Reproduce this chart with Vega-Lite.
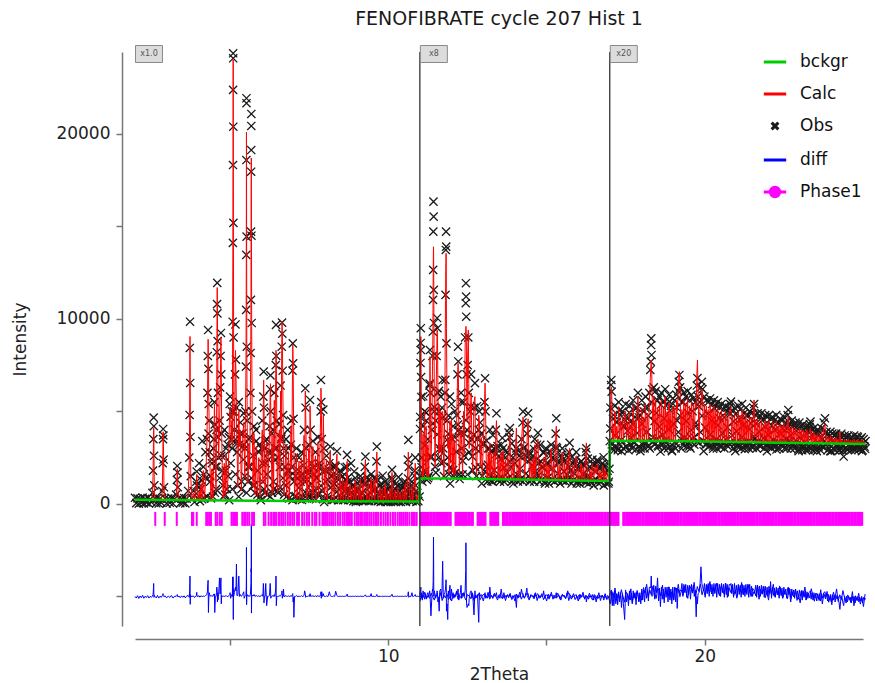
{
"$schema":"https://vega.github.io/schema/vega-lite/v6.json",
"width":728,"height":574,
"autosize":{"type":"none"},
"padding":{"left":135,"top":52,"right":12,"bottom":57},
"background":"white",
"title":{"text":"FENOFIBRATE cycle 207 Hist 1","font":"DejaVu Sans","fontSize":19,"fontWeight":"normal","color":"#1a1a1a","anchor":"middle","offset":16},
"config":{"view":{"stroke":null},"axis":{"grid":false,"domainColor":"#777","domainWidth":1.5,"tickColor":"#777","tickWidth":1.5,"tickSize":6,"labelFont":"DejaVu Sans","labelFontSize":17,"labelColor":"#222","titleFont":"DejaVu Sans","titleFontSize":17,"titleFontWeight":"normal","titleColor":"#222"}},
"datasets":{
"pat":[
{"x":2.00,"o":330,"c":230,"d":-5000},{"x":2.04,"o":40,"c":228,"d":-5090},{"x":2.08,"o":300,"c":226,"d":-4960},{"x":2.12,"o":10,"c":224,"d":-5110},{"x":2.16,"o":280,"c":222,"d":-4980},{"x":2.20,"o":60,"c":220,"d":-5070},{"x":2.24,"o":340,"c":218,"d":-4940},{"x":2.28,"o":30,"c":216,"d":-5100},{"x":2.32,"o":270,"c":214,"d":-4990},{"x":2.36,"o":80,"c":212,"d":-5060},{"x":2.40,"o":320,"c":210,"d":-4960},{"x":2.44,"o":20,"c":209,"d":-5090},{"x":2.48,"o":260,"c":208,"d":-5000},{"x":2.52,"o":90,"c":207,"d":-5050},
{"x":2.55,"o":600,"c":500,"d":-4980},{"x":2.57,"o":1800,"c":1500,"d":-4900},{"x":2.58,"o":3500,"c":3000,"d":-4700},{"x":2.59,"o":4665,"c":4100,"d":-4300},{"x":2.595,"o":4200,"c":3900,"d":-4800},{"x":2.60,"o":2600,"c":2500,"d":-5050},{"x":2.61,"o":1000,"c":900,"d":-4950},{"x":2.63,"o":300,"c":260,"d":-5000},
{"x":2.67,"o":40,"c":205,"d":-5080},{"x":2.71,"o":320,"c":204,"d":-4950},{"x":2.75,"o":20,"c":203,"d":-5090},{"x":2.79,"o":280,"c":202,"d":-4990},{"x":2.83,"o":70,"c":201,"d":-5050},
{"x":2.86,"o":700,"c":600,"d":-4960},{"x":2.875,"o":2200,"c":2000,"d":-4920},{"x":2.885,"o":3500,"c":3300,"d":-4850},{"x":2.89,"o":4050,"c":3900,"d":-4900},{"x":2.895,"o":3700,"c":3600,"d":-4950},{"x":2.905,"o":2400,"c":2300,"d":-5000},{"x":2.915,"o":900,"c":850,"d":-5020},
{"x":2.95,"o":300,"c":200,"d":-4970},{"x":3.00,"o":30,"c":199,"d":-5080},{"x":3.05,"o":290,"c":198,"d":-4980},{"x":3.10,"o":60,"c":197,"d":-5060},{"x":3.15,"o":330,"c":196,"d":-4950},{"x":3.20,"o":20,"c":195,"d":-5090},{"x":3.25,"o":270,"c":194,"d":-4990},
{"x":3.30,"o":500,"c":400,"d":-5000},{"x":3.325,"o":1300,"c":1100,"d":-4950},{"x":3.335,"o":2050,"c":1900,"d":-4900},{"x":3.345,"o":1700,"c":1700,"d":-5000},{"x":3.355,"o":900,"c":800,"d":-5030},
{"x":3.39,"o":310,"c":200,"d":-4980},{"x":3.43,"o":40,"c":195,"d":-5070},{"x":3.47,"o":290,"c":195,"d":-4970},{"x":3.51,"o":70,"c":194,"d":-5050},{"x":3.55,"o":320,"c":194,"d":-4970},{"x":3.59,"o":30,"c":193,"d":-5080},{"x":3.63,"o":280,"c":193,"d":-4990},
{"x":3.68,"o":700,"c":500,"d":-4950},{"x":3.715,"o":2500,"c":2400,"d":-5050},{"x":3.725,"o":4810,"c":4500,"d":-4700},{"x":3.732,"o":8430,"c":7800,"d":-4300},{"x":3.738,"o":9850,"c":9050,"d":-3900},{"x":3.745,"o":6540,"c":6800,"d":-5430},{"x":3.752,"o":3620,"c":3500,"d":-4900},{"x":3.762,"o":1500,"c":1400,"d":-5000},
{"x":3.80,"o":300,"c":250,"d":-5000},{"x":3.85,"o":700,"c":600,"d":-4980},{"x":3.88,"o":100,"c":230,"d":-5060},{"x":3.94,"o":1200,"c":1100,"d":-4950},{"x":3.95,"o":1750,"c":1600,"d":-4780},{"x":3.96,"o":1000,"c":1000,"d":-5000},{"x":3.99,"o":300,"c":250,"d":-4990},
{"x":4.03,"o":900,"c":700,"d":-4970},{"x":4.05,"o":150,"c":220,"d":-5040},{"x":4.09,"o":1300,"c":1100,"d":-4960},{"x":4.12,"o":250,"c":220,"d":-5020},{"x":4.16,"o":2000,"c":1800,"d":-4980},{"x":4.19,"o":300,"c":230,"d":-5000},{"x":4.23,"o":1400,"c":1200,"d":-4950},
{"x":4.27,"o":3500,"c":3200,"d":-4900},{"x":4.29,"o":6000,"c":5500,"d":-4700},{"x":4.30,"o":8000,"c":7500,"d":-4300},{"x":4.31,"o":9400,"c":8900,"d":-4130},{"x":4.32,"o":7300,"c":7800,"d":-5870},{"x":4.33,"o":5400,"c":5600,"d":-5200},{"x":4.345,"o":4500,"c":4200,"d":-4800},{"x":4.36,"o":2800,"c":2600,"d":-4900},{"x":4.38,"o":1500,"c":1400,"d":-4980},{"x":4.40,"o":300,"c":250,"d":-5000},
{"x":4.43,"o":2200,"c":1900,"d":-4950},{"x":4.46,"o":400,"c":300,"d":-5000},{"x":4.49,"o":3500,"c":3000,"d":-4870},{"x":4.51,"o":5500,"c":5400,"d":-4870},{"x":4.52,"o":4300,"c":4600,"d":-5870},{"x":4.54,"o":2000,"c":1900,"d":-5000},{"x":4.56,"o":800,"c":700,"d":-4990},
{"x":4.575,"o":4000,"c":3600,"d":-4800},{"x":4.585,"o":8200,"c":7600,"d":-4500},{"x":4.592,"o":10800,"c":10300,"d":-4600},{"x":4.598,"o":11950,"c":11700,"d":-4750},{"x":4.604,"o":10300,"c":10600,"d":-5300},{"x":4.612,"o":8800,"c":8500,"d":-4800},{"x":4.62,"o":6000,"c":6200,"d":-5200},{"x":4.64,"o":2500,"c":2400,"d":-5000},
{"x":4.67,"o":4500,"c":4200,"d":-4000},{"x":4.69,"o":6300,"c":6000,"d":-4870},{"x":4.705,"o":8000,"c":7600,"d":-4300},{"x":4.715,"o":9240,"c":9000,"d":-4000},{"x":4.725,"o":7000,"c":7400,"d":-5400},{"x":4.74,"o":3800,"c":3700,"d":-4950},{"x":4.76,"o":1800,"c":1600,"d":-5000},
{"x":4.79,"o":400,"c":300,"d":-4980},{"x":4.82,"o":2600,"c":2200,"d":-5000},{"x":4.85,"o":500,"c":400,"d":-4990},{"x":4.88,"o":3000,"c":2700,"d":-4950},{"x":4.91,"o":800,"c":700,"d":-5010},{"x":4.94,"o":1500,"c":1400,"d":-5000},
{"x":4.97,"o":3600,"c":3300,"d":-4950},{"x":4.99,"o":5400,"c":5000,"d":-4900},{"x":5.005,"o":5800,"c":5200,"d":-4800},{"x":5.02,"o":4700,"c":4800,"d":-5100},{"x":5.04,"o":3500,"c":3400,"d":-5000},{"x":5.06,"o":5000,"c":4500,"d":-4900},{"x":5.075,"o":3000,"c":3100,"d":-5000},
{"x":5.085,"o":9850,"c":9500,"d":-3950},{"x":5.092,"o":14110,"c":14000,"d":-4700},{"x":5.096,"o":18320,"c":18000,"d":-3940},{"x":5.099,"o":22380,"c":22000,"d":-5000},{"x":5.101,"o":24360,"c":24000,"d":-4600},{"x":5.103,"o":24090,"c":23800,"d":-5250},{"x":5.106,"o":20390,"c":20600,"d":-6250},{"x":5.109,"o":15190,"c":15400,"d":-5000},{"x":5.115,"o":9000,"c":9000,"d":-5000},{"x":5.125,"o":5000,"c":4800,"d":-4950},
{"x":5.14,"o":4000,"c":3500,"d":-4800},{"x":5.16,"o":7000,"c":6000,"d":-4600},{"x":5.175,"o":9700,"c":8300,"d":-4500},{"x":5.19,"o":7800,"c":7000,"d":-4700},{"x":5.205,"o":5200,"c":5000,"d":-3250},{"x":5.22,"o":3400,"c":3200,"d":-4950},
{"x":5.25,"o":1000,"c":900,"d":-4950},{"x":5.28,"o":5500,"c":5000,"d":-3900},{"x":5.30,"o":3200,"c":3100,"d":-5000},{"x":5.33,"o":4400,"c":4000,"d":-4900},{"x":5.36,"o":800,"c":700,"d":-5000},{"x":5.40,"o":3800,"c":3500,"d":-4900},{"x":5.435,"o":4900,"c":4400,"d":-4750},{"x":5.45,"o":3200,"c":3300,"d":-5100},{"x":5.47,"o":1500,"c":1400,"d":-5000},
{"x":5.49,"o":5000,"c":4800,"d":-4950},{"x":5.505,"o":7420,"c":7200,"d":-4900},{"x":5.512,"o":10490,"c":10200,"d":-4700},{"x":5.516,"o":13460,"c":13000,"d":-4500},{"x":5.519,"o":18590,"c":17500,"d":-3900},{"x":5.521,"o":21930,"c":20100,"d":-2350},{"x":5.523,"o":21660,"c":19800,"d":-3200},{"x":5.526,"o":14450,"c":15000,"d":-5450},{"x":5.532,"o":8500,"c":8400,"d":-5000},{"x":5.545,"o":4500,"c":4300,"d":-4900},
{"x":5.57,"o":1200,"c":1100,"d":-5000},{"x":5.60,"o":3500,"c":3300,"d":-4950},{"x":5.625,"o":2000,"c":1900,"d":-5000},
{"x":5.645,"o":6000,"c":5800,"d":-4900},{"x":5.655,"o":8160,"c":7800,"d":-4600},{"x":5.662,"o":11030,"c":10300,"d":-4300},{"x":5.666,"o":14720,"c":13500,"d":-3800},{"x":5.669,"o":17960,"c":16500,"d":-3500},{"x":5.672,"o":19130,"c":17800,"d":-3700},{"x":5.674,"o":20430,"c":18700,"d":-2300},{"x":5.676,"o":21080,"c":18500,"d":-1100},{"x":5.679,"o":14500,"c":15500,"d":-5900},{"x":5.686,"o":9780,"c":9600,"d":-5000},{"x":5.70,"o":5000,"c":4800,"d":-4950},
{"x":5.73,"o":1000,"c":900,"d":-4980},{"x":5.76,"o":4200,"c":3800,"d":-4900},{"x":5.79,"o":600,"c":500,"d":-5000},{"x":5.83,"o":3400,"c":3100,"d":-4950},{"x":5.87,"o":500,"c":450,"d":-5000},{"x":5.91,"o":2800,"c":2500,"d":-4970},{"x":5.95,"o":400,"c":350,"d":-5010},{"x":5.99,"o":3000,"c":2600,"d":-4950},{"x":6.02,"o":4500,"c":4000,"d":-4900},{"x":6.04,"o":1200,"c":1100,"d":-5000},
{"x":6.055,"o":5800,"c":5500,"d":-4300},{"x":6.065,"o":7150,"c":6700,"d":-4600},{"x":6.075,"o":5200,"c":5400,"d":-5350},{"x":6.09,"o":3000,"c":2900,"d":-5000},{"x":6.11,"o":600,"c":500,"d":-5000},{"x":6.13,"o":2200,"c":2000,"d":-4300},{"x":6.16,"o":3500,"c":3300,"d":-5500},{"x":6.19,"o":500,"c":450,"d":-4990},{"x":6.22,"o":2400,"c":2200,"d":-4990},{"x":6.25,"o":4200,"c":3800,"d":-4950},
{"x":6.27,"o":6200,"c":5800,"d":-4300},{"x":6.28,"o":6950,"c":6500,"d":-4500},{"x":6.29,"o":5000,"c":5100,"d":-5100},{"x":6.31,"o":2800,"c":2600,"d":-5000},{"x":6.33,"o":600,"c":500,"d":-5000},{"x":6.36,"o":4000,"c":3700,"d":-4950},{"x":6.38,"o":800,"c":700,"d":-5000},{"x":6.40,"o":6000,"c":5600,"d":-4900},{"x":6.42,"o":3000,"c":2900,"d":-5000},
{"x":6.445,"o":7500,"c":7000,"d":-4600},{"x":6.455,"o":9680,"c":8300,"d":-3900},{"x":6.465,"o":8000,"c":7900,"d":-5500},{"x":6.48,"o":4500,"c":4300,"d":-5000},{"x":6.50,"o":700,"c":600,"d":-5000},{"x":6.53,"o":2500,"c":2300,"d":-5000},{"x":6.56,"o":4300,"c":4000,"d":-4950},{"x":6.58,"o":900,"c":800,"d":-5000},{"x":6.60,"o":6400,"c":6100,"d":-4950},{"x":6.62,"o":3500,"c":3300,"d":-4900},
{"x":6.635,"o":8500,"c":8300,"d":-4850},{"x":6.645,"o":9800,"c":9850,"d":-4700},{"x":6.655,"o":9200,"c":9300,"d":-5100},{"x":6.665,"o":7200,"c":7000,"d":-4900},{"x":6.68,"o":4800,"c":4600,"d":-5000},{"x":6.69,"o":3000,"c":2900,"d":-4600},
{"x":6.71,"o":500,"c":450,"d":-5000},{"x":6.74,"o":2000,"c":1800,"d":-5000},{"x":6.77,"o":3500,"c":3200,"d":-4950},{"x":6.79,"o":400,"c":350,"d":-5000},{"x":6.82,"o":1800,"c":1700,"d":-5000},{"x":6.85,"o":3000,"c":2800,"d":-4970},{"x":6.87,"o":300,"c":250,"d":-5000},{"x":6.90,"o":1500,"c":1400,"d":-5000},{"x":6.93,"o":4500,"c":4200,"d":-4950},{"x":6.95,"o":2000,"c":1900,"d":-5000},
{"x":6.975,"o":7200,"c":7000,"d":-4900},{"x":6.985,"o":8680,"c":8600,"d":-4850},{"x":6.995,"o":7600,"c":7800,"d":-5300},{"x":7.01,"o":4600,"c":4700,"d":-5050},{"x":7.02,"o":2500,"c":3000,"d":-6130},
{"x":7.04,"o":400,"c":350,"d":-5000},{"x":7.07,"o":1500,"c":1400,"d":-5000},{"x":7.10,"o":3000,"c":2700,"d":-4950},{"x":7.12,"o":300,"c":280,"d":-5000},{"x":7.15,"o":1400,"c":1300,"d":-5000},{"x":7.18,"o":2500,"c":2300,"d":-4980},{"x":7.20,"o":250,"c":230,"d":-5000},{"x":7.23,"o":1200,"c":1100,"d":-5000},{"x":7.26,"o":2800,"c":2500,"d":-4960},{"x":7.28,"o":350,"c":300,"d":-5000},{"x":7.31,"o":1600,"c":1500,"d":-5000},{"x":7.34,"o":4000,"c":3700,"d":-4950},
{"x":7.36,"o":1200,"c":1100,"d":-4700},{"x":7.38,"o":6250,"c":6100,"d":-4850},{"x":7.39,"o":5200,"c":5300,"d":-5050},{"x":7.41,"o":3000,"c":2900,"d":-5000},{"x":7.43,"o":300,"c":280,"d":-5000},{"x":7.46,"o":1800,"c":1600,"d":-5000},{"x":7.49,"o":3200,"c":3000,"d":-4970},{"x":7.51,"o":600,"c":500,"d":-5000},{"x":7.53,"o":5620,"c":5300,"d":-4850},{"x":7.55,"o":4000,"c":4000,"d":-5000},{"x":7.58,"o":2200,"c":2000,"d":-4980},
{"x":7.60,"o":300,"c":270,"d":-5000},{"x":7.62,"o":3400,"c":3100,"d":-4950},{"x":7.64,"o":600,"c":550,"d":-5000},{"x":7.67,"o":1600,"c":1500,"d":-5000},{"x":7.70,"o":2800,"c":2600,"d":-4970},{"x":7.72,"o":250,"c":230,"d":-5000},{"x":7.75,"o":1400,"c":1300,"d":-5000},{"x":7.78,"o":3600,"c":3300,"d":-4950},{"x":7.80,"o":500,"c":450,"d":-5000},{"x":7.83,"o":2000,"c":1900,"d":-5000},
{"x":7.865,"o":5000,"c":4800,"d":-4900},{"x":7.875,"o":6700,"c":6260,"d":-4750},{"x":7.885,"o":5500,"c":5600,"d":-5100},{"x":7.90,"o":3500,"c":3300,"d":-4750},{"x":7.92,"o":700,"c":600,"d":-5000},{"x":7.95,"o":5100,"c":4800,"d":-4850},{"x":7.97,"o":3000,"c":2900,"d":-5000},
{"x":7.99,"o":300,"c":270,"d":-5000},{"x":8.02,"o":1800,"c":1700,"d":-5000},{"x":8.05,"o":2600,"c":2400,"d":-4970},{"x":8.07,"o":250,"c":230,"d":-5000},{"x":8.10,"o":1300,"c":1200,"d":-5000},{"x":8.14,"o":2200,"c":2000,"d":-4750},{"x":8.17,"o":3100,"c":2900,"d":-4950},{"x":8.19,"o":1500,"c":1400,"d":-5000},
{"x":8.21,"o":200,"c":200,"d":-5000},{"x":8.24,"o":1000,"c":900,"d":-5000},{"x":8.27,"o":2000,"c":1900,"d":-4980},{"x":8.29,"o":250,"c":220,"d":-5000},{"x":8.31,"o":1100,"c":1000,"d":-5000},{"x":8.34,"o":2000,"c":1800,"d":-4720},{"x":8.38,"o":2850,"c":2700,"d":-4950},{"x":8.40,"o":1400,"c":1300,"d":-5000},
{"x":8.42,"o":200,"c":200,"d":-5000},{"x":8.45,"o":800,"c":750,"d":-5000},{"x":8.48,"o":1800,"c":1700,"d":-4980},{"x":8.50,"o":250,"c":220,"d":-5000},{"x":8.53,"o":900,"c":850,"d":-5000},{"x":8.56,"o":1500,"c":1400,"d":-4990},{"x":8.58,"o":200,"c":200,"d":-5000},{"x":8.61,"o":700,"c":650,"d":-5000},{"x":8.64,"o":1300,"c":1200,"d":-4980},{"x":8.66,"o":300,"c":250,"d":-5000},
{"x":8.69,"o":2000,"c":1900,"d":-4960},{"x":8.70,"o":2650,"c":2300,"d":-4870},{"x":8.72,"o":1200,"c":1100,"d":-5000},{"x":8.74,"o":200,"c":190,"d":-5000},{"x":8.77,"o":700,"c":650,"d":-5000},{"x":8.80,"o":1200,"c":1100,"d":-4990},{"x":8.82,"o":200,"c":190,"d":-5000},{"x":8.85,"o":600,"c":550,"d":-5000},{"x":8.88,"o":1000,"c":950,"d":-4990},{"x":8.90,"o":150,"c":180,"d":-5000},
{"x":8.93,"o":500,"c":450,"d":-5000},{"x":8.96,"o":1400,"c":1300,"d":-4980},{"x":8.98,"o":200,"c":180,"d":-5000},{"x":9.01,"o":700,"c":650,"d":-5000},{"x":9.04,"o":1100,"c":1000,"d":-4990},{"x":9.06,"o":150,"c":180,"d":-5000},{"x":9.09,"o":500,"c":450,"d":-5000},{"x":9.12,"o":1500,"c":1400,"d":-4980},{"x":9.14,"o":200,"c":180,"d":-5000},{"x":9.17,"o":600,"c":550,"d":-5000},{"x":9.20,"o":1200,"c":1100,"d":-4990},{"x":9.22,"o":150,"c":170,"d":-5000},
{"x":9.26,"o":2000,"c":1800,"d":-4950},{"x":9.28,"o":2560,"c":2400,"d":-4920},{"x":9.30,"o":1100,"c":1000,"d":-5000},{"x":9.32,"o":200,"c":170,"d":-5000},{"x":9.35,"o":500,"c":450,"d":-5000},{"x":9.38,"o":1300,"c":1200,"d":-4990},{"x":9.40,"o":150,"c":170,"d":-5000},{"x":9.43,"o":600,"c":550,"d":-5000},{"x":9.46,"o":1600,"c":1400,"d":-4850},{"x":9.48,"o":200,"c":170,"d":-5000},{"x":9.51,"o":700,"c":650,"d":-5000},{"x":9.55,"o":1400,"c":1300,"d":-4990},{"x":9.57,"o":150,"c":170,"d":-5000},{"x":9.60,"o":800,"c":750,"d":-5000},
{"x":9.63,"o":2300,"c":2200,"d":-4970},{"x":9.64,"o":3100,"c":2800,"d":-4900},{"x":9.66,"o":1300,"c":1200,"d":-5000},{"x":9.68,"o":150,"c":160,"d":-5000},{"x":9.71,"o":500,"c":450,"d":-5000},{"x":9.74,"o":1000,"c":900,"d":-4990},{"x":9.76,"o":100,"c":160,"d":-5000},{"x":9.79,"o":400,"c":380,"d":-5000},{"x":9.82,"o":900,"c":850,"d":-4990},{"x":9.84,"o":150,"c":160,"d":-5000},{"x":9.87,"o":500,"c":450,"d":-5000},{"x":9.90,"o":1200,"c":1100,"d":-4980},{"x":9.92,"o":100,"c":150,"d":-5000},{"x":9.95,"o":400,"c":380,"d":-5000},{"x":9.98,"o":800,"c":750,"d":-4990},
{"x":10.00,"o":150,"c":150,"d":-5000},{"x":10.03,"o":350,"c":330,"d":-5000},{"x":10.06,"o":900,"c":850,"d":-4990},{"x":10.08,"o":100,"c":150,"d":-5000},{"x":10.11,"o":1400,"c":1300,"d":-4900},{"x":10.12,"o":1840,"c":1700,"d":-4880},{"x":10.14,"o":700,"c":650,"d":-5000},{"x":10.16,"o":150,"c":150,"d":-5000},{"x":10.19,"o":400,"c":350,"d":-5000},{"x":10.22,"o":800,"c":750,"d":-4990},{"x":10.24,"o":100,"c":140,"d":-5000},{"x":10.27,"o":300,"c":280,"d":-5000},{"x":10.30,"o":1000,"c":900,"d":-4980},{"x":10.32,"o":150,"c":140,"d":-5000},{"x":10.35,"o":350,"c":320,"d":-5000},{"x":10.38,"o":700,"c":650,"d":-4990},{"x":10.40,"o":100,"c":140,"d":-5000},{"x":10.43,"o":300,"c":280,"d":-5000},{"x":10.46,"o":900,"c":800,"d":-4990},{"x":10.48,"o":150,"c":140,"d":-5000},{"x":10.51,"o":350,"c":320,"d":-5000},{"x":10.54,"o":1200,"c":1100,"d":-4980},{"x":10.56,"o":100,"c":140,"d":-5000},{"x":10.59,"o":400,"c":380,"d":-5000},
{"x":10.62,"o":2400,"c":2000,"d":-4950},{"x":10.635,"o":3460,"c":2800,"d":-4750},{"x":10.65,"o":2000,"c":2100,"d":-5050},{"x":10.67,"o":800,"c":750,"d":-5000},{"x":10.69,"o":150,"c":140,"d":-5000},{"x":10.72,"o":400,"c":380,"d":-5000},{"x":10.75,"o":1200,"c":1000,"d":-4800},{"x":10.77,"o":150,"c":140,"d":-5000},{"x":10.80,"o":500,"c":450,"d":-5000},{"x":10.84,"o":1800,"c":1500,"d":-4950},{"x":10.855,"o":2500,"c":2200,"d":-4900},{"x":10.87,"o":1000,"c":900,"d":-5000},{"x":10.89,"o":100,"c":140,"d":-5000},{"x":10.92,"o":600,"c":500,"d":-4990},{"x":10.95,"o":150,"c":140,"d":-5000},{"x":10.99,"o":400,"c":200,"d":-5000},
{"x":11.00,"o":1500,"c":1400,"d":-4950},{"x":11.01,"o":4700,"c":4500,"d":-4800},{"x":11.02,"o":7620,"c":7500,"d":-4700},{"x":11.025,"o":8700,"c":8600,"d":-4650},{"x":11.03,"o":9500,"c":9040,"d":-4500},{"x":11.035,"o":8320,"c":8500,"d":-5100},{"x":11.04,"o":6860,"c":6900,"d":-5000},{"x":11.045,"o":5780,"c":5500,"d":-4800},{"x":11.06,"o":2500,"c":2600,"d":-5100},{"x":11.08,"o":1200,"c":1400,"d":-5200},
{"x":11.10,"o":4200,"c":3800,"d":-4700},{"x":11.12,"o":1600,"c":1500,"d":-4900},{"x":11.15,"o":5000,"c":5000,"d":-5150},{"x":11.17,"o":1800,"c":1700,"d":-4850},{"x":11.20,"o":4500,"c":4200,"d":-5100},{"x":11.22,"o":1300,"c":1400,"d":-4950},{"x":11.25,"o":3500,"c":3200,"d":-4800},{"x":11.28,"o":1500,"c":1450,"d":-5000},
{"x":11.31,"o":6500,"c":6000,"d":-4700},{"x":11.32,"o":8320,"c":7960,"d":-4900},{"x":11.33,"o":6000,"c":6400,"d":-5300},{"x":11.35,"o":2500,"c":2400,"d":-6050},{"x":11.38,"o":4000,"c":4200,"d":-5000},
{"x":11.40,"o":8000,"c":7500,"d":-4600},{"x":11.41,"o":9310,"c":9000,"d":-4700},{"x":11.415,"o":11030,"c":10500,"d":-4400},{"x":11.42,"o":12650,"c":12000,"d":-4200},{"x":11.425,"o":14720,"c":13200,"d":-3400},{"x":11.43,"o":16340,"c":13900,"d":-1800},{"x":11.435,"o":15530,"c":13500,"d":-3000},{"x":11.44,"o":11570,"c":11500,"d":-5000},{"x":11.445,"o":9780,"c":9500,"d":-4800},{"x":11.46,"o":5000,"c":4800,"d":-4700},{"x":11.48,"o":2000,"c":2000,"d":-5000},
{"x":11.50,"o":4500,"c":4600,"d":-5100},{"x":11.53,"o":8000,"c":7800,"d":-4900},{"x":11.545,"o":10050,"c":9400,"d":-4700},{"x":11.555,"o":9500,"c":9200,"d":-4800},{"x":11.57,"o":6000,"c":6200,"d":-5300},{"x":11.59,"o":2500,"c":2600,"d":-5100},{"x":11.61,"o":5000,"c":5400,"d":-5800},{"x":11.63,"o":3000,"c":2800,"d":-4700},{"x":11.66,"o":5800,"c":5000,"d":-4600},{"x":11.68,"o":2200,"c":2200,"d":-5000},{"x":11.70,"o":5200,"c":4800,"d":-4700},{"x":11.72,"o":6700,"c":5000,"d":-3100},{"x":11.74,"o":3000,"c":3100,"d":-5100},{"x":11.76,"o":1500,"c":1500,"d":-4900},
{"x":11.79,"o":6000,"c":5800,"d":-4800},{"x":11.81,"o":11300,"c":11000,"d":-4600},{"x":11.82,"o":13730,"c":13000,"d":-4300},{"x":11.827,"o":14720,"c":13550,"d":-4100},{"x":11.833,"o":13910,"c":13400,"d":-4400},{"x":11.84,"o":8680,"c":9500,"d":-5800},{"x":11.86,"o":4500,"c":4800,"d":-5400},{"x":11.88,"o":2500,"c":3000,"d":-6250},
{"x":11.90,"o":3800,"c":3500,"d":-4700},{"x":11.92,"o":1600,"c":1600,"d":-5000},{"x":11.95,"o":5800,"c":4500,"d":-4400},{"x":11.97,"o":2000,"c":2200,"d":-5200},{"x":12.00,"o":5400,"c":4600,"d":-4600},{"x":12.02,"o":1800,"c":1700,"d":-5000},{"x":12.05,"o":4200,"c":3800,"d":-4800},{"x":12.07,"o":1500,"c":1500,"d":-5100},{"x":12.10,"o":3600,"c":3400,"d":-4900},{"x":12.13,"o":1700,"c":1600,"d":-5000},{"x":12.16,"o":4800,"c":4200,"d":-4700},
{"x":12.19,"o":7000,"c":6800,"d":-4900},{"x":12.205,"o":8500,"c":7600,"d":-4600},{"x":12.215,"o":7700,"c":7400,"d":-4800},{"x":12.23,"o":4000,"c":4200,"d":-5200},{"x":12.25,"o":1600,"c":1700,"d":-5000},{"x":12.28,"o":3800,"c":3500,"d":-4800},{"x":12.30,"o":6000,"c":4000,"d":-4400},{"x":12.32,"o":3000,"c":3200,"d":-5100},{"x":12.35,"o":1600,"c":1600,"d":-5000},{"x":12.38,"o":5500,"c":5000,"d":-4800},{"x":12.40,"o":2600,"c":2700,"d":-5000},
{"x":12.43,"o":9000,"c":8500,"d":-4700},{"x":12.45,"o":10850,"c":9400,"d":-3600},{"x":12.455,"o":11930,"c":9600,"d":-2100},{"x":12.46,"o":11210,"c":9500,"d":-3300},{"x":12.465,"o":10120,"c":9300,"d":-4600},{"x":12.475,"o":7000,"c":7500,"d":-5400},{"x":12.49,"o":4000,"c":4500,"d":-5600},{"x":12.51,"o":7500,"c":8000,"d":-5500},{"x":12.53,"o":9000,"c":9400,"d":-5400},{"x":12.545,"o":6000,"c":6500,"d":-5500},{"x":12.56,"o":2800,"c":3000,"d":-5100},
{"x":12.59,"o":5000,"c":4600,"d":-4800},{"x":12.62,"o":7000,"c":6000,"d":-4700},{"x":12.64,"o":3500,"c":3600,"d":-5100},{"x":12.67,"o":1800,"c":1700,"d":-4900},{"x":12.71,"o":5200,"c":5500,"d":-6000},{"x":12.74,"o":6530,"c":5800,"d":-4700},{"x":12.76,"o":3000,"c":3100,"d":-5100},{"x":12.79,"o":1500,"c":1500,"d":-5000},{"x":12.82,"o":3500,"c":3300,"d":-4900},{"x":12.86,"o":4000,"c":4800,"d":-6400},{"x":12.88,"o":5000,"c":4500,"d":-4800},{"x":12.91,"o":2000,"c":2000,"d":-5000},{"x":12.94,"o":3800,"c":3600,"d":-4900},{"x":12.97,"o":1500,"c":1450,"d":-5000},
{"x":13.00,"o":3200,"c":3000,"d":-4900},{"x":13.04,"o":5500,"c":5300,"d":-4900},{"x":13.06,"o":6790,"c":6530,"d":-4800},{"x":13.075,"o":5000,"c":5200,"d":-5100},{"x":13.10,"o":2000,"c":2000,"d":-5000},{"x":13.13,"o":1200,"c":1400,"d":-5100},{"x":13.16,"o":3000,"c":2800,"d":-4900},{"x":13.19,"o":1300,"c":1400,"d":-5050},{"x":13.21,"o":4000,"c":3300,"d":-4500},{"x":13.24,"o":1500,"c":1500,"d":-5000},{"x":13.27,"o":2800,"c":2700,"d":-4950},{"x":13.30,"o":1200,"c":1400,"d":-5100},{"x":13.34,"o":3000,"c":2800,"d":-4900},{"x":13.37,"o":1400,"c":1400,"d":-5000},
{"x":13.40,"o":4000,"c":3800,"d":-4900},{"x":13.42,"o":4900,"c":4500,"d":-4800},{"x":13.44,"o":3000,"c":3100,"d":-5050},{"x":13.47,"o":1300,"c":1400,"d":-5050},{"x":13.50,"o":2600,"c":2500,"d":-4950},{"x":13.53,"o":1200,"c":1350,"d":-5100},{"x":13.57,"o":3200,"c":2800,"d":-4600},{"x":13.60,"o":1400,"c":1400,"d":-5000},{"x":13.63,"o":3000,"c":2900,"d":-4950},{"x":13.66,"o":1200,"c":1350,"d":-5100},{"x":13.70,"o":2500,"c":2400,"d":-4950},{"x":13.73,"o":1300,"c":1350,"d":-5050},{"x":13.77,"o":2800,"c":2600,"d":-4900},{"x":13.80,"o":1400,"c":1350,"d":-5000},
{"x":13.83,"o":3600,"c":3400,"d":-4900},{"x":13.845,"o":4100,"c":3800,"d":-4850},{"x":13.87,"o":2000,"c":2100,"d":-5050},{"x":13.90,"o":1200,"c":1350,"d":-5100},{"x":13.94,"o":2500,"c":2400,"d":-4950},{"x":13.97,"o":1300,"c":1340,"d":-5050},{"x":14.01,"o":2800,"c":2600,"d":-4900},{"x":14.05,"o":3000,"c":4100,"d":-5600},{"x":14.07,"o":1600,"c":1500,"d":-4950},{"x":14.10,"o":1200,"c":1330,"d":-5100},{"x":14.14,"o":2600,"c":2500,"d":-4950},{"x":14.17,"o":1300,"c":1330,"d":-5050},
{"x":14.21,"o":3500,"c":3300,"d":-4600},{"x":14.24,"o":4400,"c":4200,"d":-4900},{"x":14.26,"o":4990,"c":4700,"d":-4850},{"x":14.28,"o":3000,"c":3100,"d":-5050},{"x":14.31,"o":1300,"c":1330,"d":-5050},{"x":14.34,"o":2600,"c":2500,"d":-4950},{"x":14.38,"o":3800,"c":3000,"d":-4550},{"x":14.40,"o":4300,"c":4100,"d":-4900},{"x":14.42,"o":4900,"c":4600,"d":-4850},{"x":14.44,"o":2800,"c":2900,"d":-5050},{"x":14.47,"o":1200,"c":1320,"d":-5100},{"x":14.51,"o":2400,"c":2300,"d":-4950},{"x":14.54,"o":1300,"c":1320,"d":-5000},{"x":14.58,"o":2600,"c":2500,"d":-4950},{"x":14.61,"o":1200,"c":1310,"d":-5100},
{"x":14.63,"o":3500,"c":3200,"d":-4850},{"x":14.66,"o":1600,"c":1500,"d":-5000},{"x":14.70,"o":3200,"c":3000,"d":-4900},{"x":14.73,"o":3840,"c":3500,"d":-4850},{"x":14.75,"o":2200,"c":2300,"d":-5050},{"x":14.78,"o":1200,"c":1300,"d":-5100},{"x":14.82,"o":2300,"c":2200,"d":-4950},{"x":14.85,"o":1300,"c":1300,"d":-5000},{"x":14.89,"o":2000,"c":1900,"d":-4950},{"x":14.91,"o":2800,"c":2500,"d":-4700},{"x":14.94,"o":1200,"c":1300,"d":-5100},{"x":14.98,"o":3000,"c":2800,"d":-4900},
{"x":15.01,"o":1400,"c":1300,"d":-4950},{"x":15.05,"o":2200,"c":2100,"d":-4950},{"x":15.08,"o":1100,"c":1290,"d":-5150},{"x":15.12,"o":2600,"c":2400,"d":-4900},{"x":15.15,"o":3200,"c":3000,"d":-4900},{"x":15.18,"o":1300,"c":1290,"d":-5000},{"x":15.22,"o":2400,"c":2300,"d":-4950},{"x":15.25,"o":1200,"c":1290,"d":-5100},{"x":15.29,"o":3800,"c":3600,"d":-4900},{"x":15.31,"o":4630,"c":4200,"d":-4800},{"x":15.33,"o":3000,"c":3100,"d":-5050},{"x":15.36,"o":1300,"c":1280,"d":-5000},{"x":15.40,"o":2200,"c":2100,"d":-4950},{"x":15.43,"o":1100,"c":1280,"d":-5150},{"x":15.47,"o":2500,"c":2400,"d":-4950},{"x":15.50,"o":3000,"c":2800,"d":-4900},
{"x":15.53,"o":1300,"c":1280,"d":-5000},{"x":15.57,"o":2300,"c":2200,"d":-4950},{"x":15.60,"o":1200,"c":1270,"d":-5100},{"x":15.64,"o":2600,"c":2500,"d":-4950},{"x":15.67,"o":1300,"c":1270,"d":-4700},{"x":15.71,"o":2800,"c":2600,"d":-4900},{"x":15.73,"o":3300,"c":3000,"d":-4850},{"x":15.75,"o":1800,"c":1900,"d":-5050},{"x":15.79,"o":1100,"c":1260,"d":-5150},{"x":15.83,"o":2200,"c":2100,"d":-4950},{"x":15.86,"o":1300,"c":1260,"d":-5000},{"x":15.90,"o":2400,"c":2300,"d":-4950},{"x":15.94,"o":2800,"c":2600,"d":-4900},{"x":15.97,"o":1200,"c":1260,"d":-5100},
{"x":16.01,"o":2000,"c":1900,"d":-4950},{"x":16.05,"o":1100,"c":1250,"d":-5150},{"x":16.09,"o":2300,"c":2200,"d":-4950},{"x":16.12,"o":1300,"c":1250,"d":-5000},{"x":16.16,"o":2100,"c":2000,"d":-4950},{"x":16.20,"o":1200,"c":1250,"d":-5100},{"x":16.24,"o":2800,"c":2700,"d":-4950},{"x":16.26,"o":3000,"c":3300,"d":-5300},{"x":16.29,"o":1500,"c":1500,"d":-5000},{"x":16.33,"o":1100,"c":1240,"d":-5150},{"x":16.37,"o":2000,"c":1900,"d":-4950},{"x":16.41,"o":1200,"c":1240,"d":-5050},{"x":16.45,"o":2400,"c":2200,"d":-4900},{"x":16.49,"o":1000,"c":1240,"d":-5200},
{"x":16.53,"o":2100,"c":2000,"d":-4950},{"x":16.57,"o":1300,"c":1600,"d":-5300},{"x":16.61,"o":2300,"c":2200,"d":-4950},{"x":16.65,"o":1100,"c":1230,"d":-5100},{"x":16.69,"o":1900,"c":1800,"d":-4950},{"x":16.73,"o":1200,"c":1230,"d":-5050},{"x":16.77,"o":2200,"c":2100,"d":-4950},{"x":16.81,"o":1000,"c":1230,"d":-5200},{"x":16.85,"o":2000,"c":1900,"d":-4950},{"x":16.89,"o":1100,"c":1220,"d":-5100},{"x":16.93,"o":1800,"c":1700,"d":-4950},{"x":16.97,"o":1200,"c":1220,"d":-5050},{"x":16.99,"o":1900,"c":1800,"d":-5000},
{"x":17.00,"o":3400,"c":3500,"d":-5000},{"x":17.02,"o":5200,"c":4900,"d":-4800},{"x":17.04,"o":6430,"c":6100,"d":-4700},{"x":17.05,"o":6700,"c":6300,"d":-4650},{"x":17.06,"o":6070,"c":6200,"d":-5150},{"x":17.08,"o":3000,"c":3500,"d":-5500},{"x":17.10,"o":4600,"c":4300,"d":-4800},{"x":17.13,"o":2900,"c":3450,"d":-5500},{"x":17.16,"o":5300,"c":5000,"d":-4700},{"x":17.19,"o":3100,"c":3500,"d":-5400},{"x":17.22,"o":4400,"c":4200,"d":-4850},{"x":17.25,"o":2900,"c":3450,"d":-5450},{"x":17.28,"o":5500,"c":5260,"d":-4750},{"x":17.31,"o":3200,"c":3500,"d":-5300},{"x":17.34,"o":4800,"c":4500,"d":-4800},{"x":17.37,"o":2850,"c":3450,"d":-5600},{"x":17.40,"o":5000,"c":4800,"d":-4850},{"x":17.43,"o":3000,"c":3450,"d":-5400},{"x":17.47,"o":4200,"c":4600,"d":-6250},
{"x":17.50,"o":5400,"c":5000,"d":-4650},{"x":17.53,"o":3100,"c":3450,"d":-5300},{"x":17.56,"o":4600,"c":4400,"d":-4850},{"x":17.59,"o":2900,"c":3440,"d":-5500},{"x":17.62,"o":5300,"c":5000,"d":-4700},{"x":17.65,"o":3200,"c":3440,"d":-5200},{"x":17.68,"o":4500,"c":4300,"d":-4850},{"x":17.71,"o":3000,"c":3440,"d":-5400},{"x":17.74,"o":5600,"c":5300,"d":-4700},{"x":17.77,"o":3300,"c":3440,"d":-5100},{"x":17.80,"o":4700,"c":4500,"d":-4800},{"x":17.83,"o":2950,"c":3440,"d":-5450},{"x":17.86,"o":5200,"c":5000,"d":-4750},{"x":17.89,"o":6000,"c":5800,"d":-4800},{"x":17.92,"o":3100,"c":3440,"d":-5300},{"x":17.95,"o":4800,"c":4600,"d":-4800},{"x":17.98,"o":3000,"c":3440,"d":-5400},
{"x":18.01,"o":5600,"c":5200,"d":-4600},{"x":18.04,"o":3200,"c":3440,"d":-5200},{"x":18.07,"o":5000,"c":4700,"d":-4650},{"x":18.10,"o":3000,"c":3430,"d":-5300},{"x":18.13,"o":5800,"c":5400,"d":-4500},{"x":18.16,"o":3300,"c":3430,"d":-5100},{"x":18.19,"o":5200,"c":4900,"d":-4650},{"x":18.22,"o":3100,"c":3430,"d":-5250},{"x":18.25,"o":6000,"c":5500,"d":-4500},{"x":18.28,"o":7240,"c":6800,"d":-4500},{"x":18.295,"o":7690,"c":7300,"d":-4550},{"x":18.305,"o":8590,"c":7780,"d":-4100},{"x":18.31,"o":8950,"c":7700,"d":-3900},{"x":18.32,"o":8050,"c":7600,"d":-4500},{"x":18.335,"o":6200,"c":6300,"d":-5000},{"x":18.36,"o":3400,"c":3500,"d":-4950},
{"x":18.39,"o":6300,"c":5800,"d":-4400},{"x":18.42,"o":3200,"c":3430,"d":-5150},{"x":18.45,"o":6100,"c":5600,"d":-4450},{"x":18.48,"o":3500,"c":3430,"d":-4800},{"x":18.51,"o":5600,"c":5200,"d":-4000},{"x":18.54,"o":3100,"c":3430,"d":-5250},{"x":18.57,"o":5800,"c":5400,"d":-4550},{"x":18.60,"o":2830,"c":3430,"d":-5550},{"x":18.63,"o":6000,"c":5600,"d":-4500},{"x":18.66,"o":3200,"c":3420,"d":-5150},{"x":18.69,"o":5500,"c":5200,"d":-4600},{"x":18.72,"o":3000,"c":3420,"d":-5350},{"x":18.75,"o":6200,"c":5800,"d":-4500},{"x":18.78,"o":3300,"c":3420,"d":-5050},{"x":18.81,"o":5400,"c":5000,"d":-4500},{"x":18.84,"o":3000,"c":3420,"d":-5300},{"x":18.87,"o":5900,"c":5500,"d":-4500},{"x":18.90,"o":3100,"c":3420,"d":-5200},{"x":18.93,"o":5300,"c":5000,"d":-4600},{"x":18.96,"o":2900,"c":3420,"d":-5400},{"x":18.99,"o":5700,"c":5300,"d":-4500},
{"x":19.02,"o":3100,"c":3420,"d":-5200},{"x":19.05,"o":5600,"c":5200,"d":-4500},{"x":19.08,"o":3000,"c":3420,"d":-5300},{"x":19.11,"o":5900,"c":5600,"d":-4550},{"x":19.13,"o":4500,"c":5000,"d":-5650},{"x":19.16,"o":6100,"c":5900,"d":-4600},{"x":19.18,"o":6600,"c":6800,"d":-4800},{"x":19.20,"o":6970,"c":7150,"d":-4750},{"x":19.22,"o":6300,"c":6400,"d":-4650},{"x":19.25,"o":3500,"c":3500,"d":-4700},{"x":19.28,"o":5500,"c":5100,"d":-4300},{"x":19.31,"o":3200,"c":3420,"d":-5000},{"x":19.34,"o":6000,"c":5600,"d":-4350},{"x":19.37,"o":3400,"c":3420,"d":-4800},{"x":19.40,"o":5800,"c":5400,"d":-4350},{"x":19.43,"o":3100,"c":3410,"d":-5050},{"x":19.46,"o":6100,"c":5700,"d":-4400},{"x":19.49,"o":3300,"c":3410,"d":-4900},
{"x":19.52,"o":5600,"c":5300,"d":-4400},{"x":19.55,"o":3000,"c":3410,"d":-5150},{"x":19.58,"o":5900,"c":5500,"d":-4350},{"x":19.61,"o":3500,"c":3410,"d":-4800},{"x":19.64,"o":5700,"c":5400,"d":-4400},{"x":19.67,"o":3200,"c":3410,"d":-5000},{"x":19.70,"o":5500,"c":5500,"d":-4650},{"x":19.73,"o":4200,"c":5200,"d":-6100},{"x":19.75,"o":6400,"c":6900,"d":-5000},{"x":19.77,"o":6800,"c":7780,"d":-5400},{"x":19.79,"o":5800,"c":6000,"d":-4850},{"x":19.82,"o":3300,"c":3410,"d":-4800},{"x":19.85,"o":5500,"c":5300,"d":-4400},{"x":19.88,"o":6300,"c":5200,"d":-3400},{"x":19.91,"o":6600,"c":6200,"d":-4300},{"x":19.93,"o":6200,"c":6000,"d":-4450},{"x":19.96,"o":3400,"c":3400,"d":-4700},{"x":19.99,"o":5800,"c":5400,"d":-4300},
{"x":20.02,"o":3200,"c":3400,"d":-4950},{"x":20.05,"o":5600,"c":5300,"d":-4350},{"x":20.08,"o":3300,"c":3400,"d":-4850},{"x":20.11,"o":5500,"c":5100,"d":-4300},{"x":20.14,"o":3100,"c":3400,"d":-5000},{"x":20.17,"o":5700,"c":5400,"d":-4350},{"x":20.20,"o":3400,"c":3400,"d":-4750},{"x":20.23,"o":5400,"c":5100,"d":-4350},{"x":20.26,"o":3100,"c":3400,"d":-5000},{"x":20.29,"o":5600,"c":5300,"d":-4300},{"x":20.32,"o":3300,"c":3400,"d":-4850},{"x":20.35,"o":5300,"c":5000,"d":-4350},{"x":20.38,"o":3000,"c":3390,"d":-5050},{"x":20.41,"o":5500,"c":5200,"d":-4300},{"x":20.44,"o":3300,"c":3390,"d":-4850},{"x":20.47,"o":5200,"c":4900,"d":-4350},
{"x":20.50,"o":3100,"c":3390,"d":-5000},{"x":20.53,"o":5400,"c":5100,"d":-4300},{"x":20.56,"o":3300,"c":3390,"d":-4800},{"x":20.59,"o":5100,"c":4800,"d":-4350},{"x":20.62,"o":3000,"c":3390,"d":-5050},{"x":20.65,"o":5300,"c":5000,"d":-4300},{"x":20.68,"o":3200,"c":3390,"d":-4900},{"x":20.71,"o":5000,"c":4700,"d":-4350},{"x":20.74,"o":3100,"c":3390,"d":-5000},{"x":20.77,"o":5200,"c":4900,"d":-4350},{"x":20.80,"o":5400,"c":5100,"d":-4400},{"x":20.83,"o":5530,"c":5200,"d":-4300},{"x":20.85,"o":3300,"c":3380,"d":-4850},{"x":20.88,"o":5000,"c":4700,"d":-4350},{"x":20.91,"o":3000,"c":3380,"d":-5050},{"x":20.94,"o":5200,"c":4900,"d":-4300},{"x":20.97,"o":3300,"c":3380,"d":-4850},
{"x":21.00,"o":4900,"c":4600,"d":-4400},{"x":21.03,"o":3100,"c":3380,"d":-5000},{"x":21.06,"o":5300,"c":5000,"d":-4350},{"x":21.09,"o":3200,"c":3380,"d":-4900},{"x":21.12,"o":5100,"c":4800,"d":-4400},{"x":21.15,"o":3000,"c":3370,"d":-5050},{"x":21.18,"o":5400,"c":5100,"d":-4350},{"x":21.21,"o":3300,"c":3370,"d":-4850},{"x":21.24,"o":4900,"c":4600,"d":-4400},{"x":21.27,"o":3100,"c":3370,"d":-5000},{"x":21.30,"o":5200,"c":4900,"d":-4350},{"x":21.33,"o":3200,"c":3370,"d":-4900},{"x":21.36,"o":4800,"c":4500,"d":-4400},{"x":21.39,"o":3000,"c":3370,"d":-5050},{"x":21.42,"o":5000,"c":4700,"d":-4350},{"x":21.45,"o":3300,"c":3360,"d":-4850},{"x":21.48,"o":4900,"c":4700,"d":-4450},
{"x":21.51,"o":3100,"c":3360,"d":-5000},{"x":21.54,"o":5200,"c":5300,"d":-4750},{"x":21.56,"o":5400,"c":5620,"d":-4850},{"x":21.58,"o":3500,"c":3600,"d":-4750},{"x":21.61,"o":4800,"c":4500,"d":-4400},{"x":21.64,"o":3000,"c":3360,"d":-5050},{"x":21.67,"o":4900,"c":4600,"d":-4400},{"x":21.70,"o":3200,"c":3360,"d":-4900},{"x":21.73,"o":4700,"c":4400,"d":-4450},{"x":21.76,"o":3100,"c":3350,"d":-5000},{"x":21.79,"o":4900,"c":4600,"d":-4400},{"x":21.82,"o":3300,"c":3350,"d":-4850},{"x":21.85,"o":4600,"c":4300,"d":-4450},{"x":21.88,"o":3000,"c":3350,"d":-5050},{"x":21.91,"o":4800,"c":4500,"d":-4450},{"x":21.94,"o":3200,"c":3350,"d":-4900},{"x":21.97,"o":4700,"c":4400,"d":-4500},
{"x":22.00,"o":3100,"c":3340,"d":-5000},{"x":22.03,"o":4800,"c":4500,"d":-4450},{"x":22.06,"o":3300,"c":3340,"d":-4850},{"x":22.08,"o":4600,"c":4200,"d":-4200},{"x":22.11,"o":3000,"c":3340,"d":-5100},{"x":22.14,"o":4700,"c":4400,"d":-4500},{"x":22.17,"o":3200,"c":3340,"d":-4950},{"x":22.20,"o":4500,"c":4300,"d":-4550},{"x":22.23,"o":3100,"c":3330,"d":-5050},{"x":22.26,"o":4800,"c":4500,"d":-4500},{"x":22.29,"o":3300,"c":3330,"d":-4900},{"x":22.32,"o":4400,"c":4200,"d":-4550},{"x":22.35,"o":3000,"c":3330,"d":-5100},{"x":22.38,"o":4600,"c":4300,"d":-4500},{"x":22.41,"o":3200,"c":3330,"d":-4950},{"x":22.44,"o":4500,"c":4200,"d":-4550},{"x":22.47,"o":3100,"c":3320,"d":-5050},
{"x":22.50,"o":4700,"c":4400,"d":-4500},{"x":22.53,"o":3300,"c":3320,"d":-4900},{"x":22.56,"o":4400,"c":4200,"d":-4600},{"x":22.59,"o":3000,"c":3320,"d":-5100},{"x":22.62,"o":4800,"c":4500,"d":-4550},{"x":22.64,"o":5080,"c":4700,"d":-4500},{"x":22.66,"o":3400,"c":3400,"d":-4900},{"x":22.69,"o":4300,"c":4100,"d":-4600},{"x":22.72,"o":3000,"c":3310,"d":-5100},{"x":22.75,"o":4500,"c":4200,"d":-4600},{"x":22.78,"o":3200,"c":3310,"d":-4950},{"x":22.81,"o":4300,"c":4100,"d":-4650},{"x":22.84,"o":3000,"c":3310,"d":-5100},{"x":22.87,"o":4400,"c":4100,"d":-4600},{"x":22.90,"o":3200,"c":3310,"d":-5000},{"x":22.93,"o":4200,"c":4000,"d":-4700},{"x":22.96,"o":2950,"c":3300,"d":-5150},{"x":22.99,"o":4400,"c":4100,"d":-4650},
{"x":23.02,"o":3200,"c":3300,"d":-5000},{"x":23.05,"o":4200,"c":4000,"d":-4700},{"x":23.08,"o":2900,"c":3300,"d":-5200},{"x":23.11,"o":4300,"c":4000,"d":-4700},{"x":23.14,"o":3100,"c":3300,"d":-5050},{"x":23.17,"o":4100,"c":3900,"d":-4750},{"x":23.20,"o":2900,"c":3290,"d":-5200},{"x":23.23,"o":4200,"c":4000,"d":-4750},{"x":23.26,"o":3100,"c":3290,"d":-5100},{"x":23.29,"o":4000,"c":3800,"d":-4800},{"x":23.32,"o":4300,"c":4000,"d":-4750},{"x":23.34,"o":4450,"c":4100,"d":-4700},{"x":23.36,"o":3000,"c":3290,"d":-5150},{"x":23.39,"o":4000,"c":3800,"d":-4800},{"x":23.42,"o":2900,"c":3290,"d":-5200},{"x":23.45,"o":4100,"c":3900,"d":-4800},{"x":23.48,"o":3100,"c":3280,"d":-5100},
{"x":23.51,"o":3900,"c":3700,"d":-4850},{"x":23.54,"o":2850,"c":3280,"d":-5250},{"x":23.57,"o":4000,"c":3800,"d":-4850},{"x":23.60,"o":3100,"c":3280,"d":-5100},{"x":23.63,"o":3900,"c":3700,"d":-4850},{"x":23.66,"o":2900,"c":3280,"d":-5250},{"x":23.69,"o":4100,"c":3900,"d":-4850},{"x":23.72,"o":3100,"c":3270,"d":-5100},{"x":23.76,"o":4400,"c":4100,"d":-4800},{"x":23.80,"o":4630,"c":4300,"d":-4750},{"x":23.82,"o":3200,"c":3300,"d":-5050},{"x":23.85,"o":3900,"c":3700,"d":-4850},{"x":23.88,"o":2900,"c":3270,"d":-5250},{"x":23.91,"o":3800,"c":3600,"d":-4900},{"x":23.94,"o":3000,"c":3270,"d":-5200},{"x":23.97,"o":3900,"c":3700,"d":-4900},
{"x":24.00,"o":2850,"c":3260,"d":-5300},{"x":24.03,"o":3800,"c":3600,"d":-4900},{"x":24.06,"o":3000,"c":3260,"d":-5200},{"x":24.09,"o":3700,"c":3500,"d":-4950},{"x":24.12,"o":2900,"c":3260,"d":-5300},{"x":24.15,"o":3800,"c":3600,"d":-4950},{"x":24.18,"o":3100,"c":3260,"d":-5150},{"x":24.21,"o":3600,"c":3500,"d":-5000},{"x":24.24,"o":2900,"c":3250,"d":-5300},{"x":24.27,"o":3700,"c":3900,"d":-5700},{"x":24.30,"o":3100,"c":3250,"d":-5150},{"x":24.33,"o":3600,"c":3450,"d":-5000},{"x":24.36,"o":2900,"c":3250,"d":-5300},{"x":24.39,"o":2560,"c":3250,"d":-5500},{"x":24.42,"o":3700,"c":3500,"d":-5000},{"x":24.45,"o":3000,"c":3250,"d":-5250},{"x":24.48,"o":3600,"c":3450,"d":-5000},
{"x":24.51,"o":2950,"c":3250,"d":-5300},{"x":24.54,"o":3700,"c":3500,"d":-5000},{"x":24.57,"o":3100,"c":3250,"d":-5200},{"x":24.60,"o":3500,"c":3400,"d":-5050},{"x":24.63,"o":2900,"c":3240,"d":-5350},{"x":24.66,"o":3600,"c":3450,"d":-5000},{"x":24.69,"o":3000,"c":3240,"d":-5250},{"x":24.72,"o":3700,"c":3500,"d":-5000},{"x":24.75,"o":2900,"c":3240,"d":-5350},{"x":24.78,"o":3500,"c":3400,"d":-5050},{"x":24.81,"o":3100,"c":3240,"d":-5200},{"x":24.84,"o":3600,"c":3450,"d":-5000},{"x":24.87,"o":2950,"c":3240,"d":-5300},{"x":24.90,"o":3500,"c":3400,"d":-5050},{"x":24.93,"o":3000,"c":3240,"d":-5250},{"x":24.96,"o":3600,"c":3450,"d":-5000},{"x":24.99,"o":2900,"c":3240,"d":-5350},{"x":25.02,"o":3500,"c":3400,"d":-5050},{"x":25.05,"o":3100,"c":3240,"d":-5200},{"x":25.08,"o":3400,"c":3350,"d":-5100}
],
"ob2":[
{"x":4.025,"o":2200},{"x":4.075,"o":800},{"x":4.125,"o":3400},{"x":4.175,"o":1600},{"x":4.225,"o":2800},{"x":4.275,"o":400},{"x":4.325,"o":3800},{"x":4.375,"o":1200},{"x":4.425,"o":2400},{"x":4.475,"o":3000},{"x":4.525,"o":600},{"x":4.575,"o":2000},{"x":4.625,"o":3600},{"x":4.675,"o":1400},{"x":4.725,"o":2600},{"x":4.775,"o":1000},{"x":4.825,"o":4000},{"x":4.875,"o":1800},{"x":4.925,"o":3200},{"x":4.975,"o":200},
{"x":5.025,"o":2200},{"x":5.075,"o":800},{"x":5.125,"o":3400},{"x":5.175,"o":1600},{"x":5.225,"o":2800},{"x":5.275,"o":400},{"x":5.325,"o":3800},{"x":5.375,"o":1200},{"x":5.425,"o":2400},{"x":5.475,"o":3000},{"x":5.525,"o":600},{"x":5.575,"o":2000},{"x":5.625,"o":3600},{"x":5.675,"o":1400},{"x":5.725,"o":2600},{"x":5.775,"o":1000},{"x":5.825,"o":4000},{"x":5.875,"o":1800},{"x":5.925,"o":3200},{"x":5.975,"o":200},
{"x":6.025,"o":2200},{"x":6.075,"o":800},{"x":6.125,"o":3400},{"x":6.175,"o":1600},{"x":6.225,"o":2800},{"x":6.275,"o":400},{"x":6.325,"o":3800},{"x":6.375,"o":1200},{"x":6.425,"o":2400},{"x":6.475,"o":3000},{"x":6.525,"o":600},{"x":6.575,"o":2000},{"x":6.625,"o":3600},{"x":6.675,"o":1400},{"x":6.725,"o":2600},{"x":6.775,"o":1000},{"x":6.825,"o":4000},{"x":6.875,"o":1800},{"x":6.925,"o":3200},{"x":6.975,"o":200},
{"x":7.025,"o":1200},{"x":7.075,"o":430},{"x":7.125,"o":1860},{"x":7.175,"o":870},{"x":7.225,"o":1530},{"x":7.275,"o":210},{"x":7.325,"o":2080},{"x":7.375,"o":650},{"x":7.425,"o":1310},{"x":7.475,"o":1640},{"x":7.525,"o":320},{"x":7.575,"o":1090},{"x":7.625,"o":1970},{"x":7.675,"o":760},{"x":7.725,"o":1420},{"x":7.775,"o":540},{"x":7.825,"o":2190},{"x":7.875,"o":980},{"x":7.925,"o":1750},{"x":7.975,"o":100},
{"x":8.025,"o":1200},{"x":8.075,"o":430},{"x":8.125,"o":1860},{"x":8.175,"o":870},{"x":8.225,"o":1530},{"x":8.275,"o":210},{"x":8.325,"o":2080},{"x":8.375,"o":650},{"x":8.425,"o":1310},{"x":8.475,"o":1640},{"x":8.525,"o":320},{"x":8.575,"o":1090},{"x":8.625,"o":1970},{"x":8.675,"o":760},{"x":8.725,"o":1420},{"x":8.775,"o":540},{"x":8.825,"o":2190},{"x":8.875,"o":980},{"x":8.925,"o":1750},{"x":8.975,"o":100},
{"x":9.025,"o":850},{"x":9.075,"o":325},{"x":9.125,"o":1300},{"x":9.175,"o":625},{"x":9.225,"o":1075},{"x":9.275,"o":175},{"x":9.325,"o":1450},{"x":9.375,"o":475},{"x":9.425,"o":925},{"x":9.475,"o":1150},{"x":9.525,"o":250},{"x":9.575,"o":775},{"x":9.625,"o":1375},{"x":9.675,"o":550},{"x":9.725,"o":1000},{"x":9.775,"o":400},{"x":9.825,"o":1525},{"x":9.875,"o":700},{"x":9.925,"o":1225},{"x":9.975,"o":100},
{"x":10.025,"o":850},{"x":10.075,"o":325},{"x":10.125,"o":1300},{"x":10.175,"o":625},{"x":10.225,"o":1075},{"x":10.275,"o":175},{"x":10.325,"o":1450},{"x":10.375,"o":475},{"x":10.425,"o":925},{"x":10.475,"o":1150},{"x":10.525,"o":250},{"x":10.575,"o":775},{"x":10.625,"o":1375},{"x":10.675,"o":550},{"x":10.725,"o":1000},{"x":10.775,"o":400},{"x":10.825,"o":1525},{"x":10.875,"o":700},
{"x":11.005,"o":4050,"d":-5250},{"x":11.055,"o":1985,"d":-4875},{"x":11.105,"o":5820,"d":-5050},{"x":11.155,"o":3165,"d":-4775},{"x":11.205,"o":4935,"d":-5150},{"x":11.255,"o":1395,"d":-4950},{"x":11.305,"o":6410,"d":-5100},{"x":11.355,"o":2575,"d":-4825},{"x":11.405,"o":4345,"d":-5025},{"x":11.455,"o":5230,"d":-5200},{"x":11.505,"o":1690,"d":-4900},{"x":11.555,"o":3755,"d":-4975},{"x":11.605,"o":6115,"d":-5125},{"x":11.655,"o":2870,"d":-4800},{"x":11.705,"o":4640,"d":-5225},{"x":11.755,"o":2280,"d":-4925},{"x":11.805,"o":6705,"d":-5075},{"x":11.855,"o":3460,"d":-4850},
{"x":11.905,"o":4775,"d":-5175},{"x":11.955,"o":1100,"d":-5000},{"x":12.005,"o":3550,"d":-5250},{"x":12.055,"o":1835,"d":-4875},{"x":12.105,"o":5020,"d":-5050},{"x":12.155,"o":2815,"d":-4775},{"x":12.205,"o":4285,"d":-5150},{"x":12.255,"o":1345,"d":-4950},{"x":12.305,"o":5510,"d":-5100},{"x":12.355,"o":2325,"d":-4825},{"x":12.405,"o":3795,"d":-5025},{"x":12.455,"o":4530,"d":-5200},{"x":12.505,"o":1590,"d":-4900},{"x":12.555,"o":3305,"d":-4975},{"x":12.605,"o":5265,"d":-5125},{"x":12.655,"o":2570,"d":-4800},
{"x":12.705,"o":3740,"d":-5225},{"x":12.755,"o":1980,"d":-4925},{"x":12.805,"o":5280,"d":-5075},{"x":12.855,"o":2860,"d":-4850},{"x":12.905,"o":4400,"d":-5175},{"x":12.955,"o":1100,"d":-5000},{"x":13.005,"o":3300,"d":-5250},{"x":13.055,"o":1760,"d":-4875},
{"x":13.105,"o":3420,"d":-5050},{"x":13.155,"o":2115,"d":-4775},{"x":13.205,"o":2985,"d":-5150},{"x":13.255,"o":1245,"d":-4950},{"x":13.305,"o":3710,"d":-5100},{"x":13.355,"o":1825,"d":-4825},{"x":13.405,"o":2695,"d":-5025},{"x":13.455,"o":3130,"d":-5200},{"x":13.505,"o":1390,"d":-4900},{"x":13.555,"o":2405,"d":-4975},{"x":13.605,"o":3565,"d":-5125},{"x":13.655,"o":1970,"d":-4800},{"x":13.705,"o":2840,"d":-5225},{"x":13.755,"o":1680,"d":-4925},{"x":13.805,"o":3855,"d":-5075},{"x":13.855,"o":2260,"d":-4850},{"x":13.905,"o":3275,"d":-5175},{"x":13.955,"o":1100,"d":-5000},
{"x":14.005,"o":2200,"d":-5250},{"x":14.055,"o":1430,"d":-4875},{"x":14.105,"o":2860,"d":-5050},{"x":14.155,"o":1870,"d":-4775},{"x":14.205,"o":2530,"d":-5150},{"x":14.255,"o":1210,"d":-4950},{"x":14.305,"o":3080,"d":-5100},{"x":14.355,"o":1650,"d":-4825},{"x":14.405,"o":2310,"d":-5025},{"x":14.455,"o":2640,"d":-5200},{"x":14.505,"o":1320,"d":-4900},{"x":14.555,"o":2090,"d":-4975},{"x":14.605,"o":2970,"d":-5125},{"x":14.655,"o":1760,"d":-4800},{"x":14.705,"o":2420,"d":-5225},{"x":14.755,"o":1540,"d":-4925},{"x":14.805,"o":3190,"d":-5075},{"x":14.855,"o":1980,"d":-4850},{"x":14.905,"o":2750,"d":-5175},{"x":14.955,"o":1100,"d":-5000},
{"x":15.005,"o":2200,"d":-5250},{"x":15.055,"o":1430,"d":-4875},{"x":15.105,"o":2860,"d":-5050},{"x":15.155,"o":1870,"d":-4775},{"x":15.205,"o":2530,"d":-5150},{"x":15.255,"o":1210,"d":-4950},{"x":15.305,"o":3080,"d":-5100},{"x":15.355,"o":1650,"d":-4825},{"x":15.405,"o":2310,"d":-5025},{"x":15.455,"o":2640,"d":-5200},
{"x":15.505,"o":1250,"d":-4900},{"x":15.555,"o":1775,"d":-4975},{"x":15.605,"o":2375,"d":-5125},{"x":15.655,"o":1550,"d":-4800},{"x":15.705,"o":2000,"d":-5225},{"x":15.755,"o":1400,"d":-4925},{"x":15.805,"o":2525,"d":-5075},{"x":15.855,"o":1700,"d":-4850},{"x":15.905,"o":2225,"d":-5175},{"x":15.955,"o":1100,"d":-5000},{"x":16.005,"o":1850,"d":-5250},{"x":16.055,"o":1325,"d":-4875},{"x":16.105,"o":2300,"d":-5050},{"x":16.155,"o":1625,"d":-4775},{"x":16.205,"o":2075,"d":-5150},{"x":16.255,"o":1175,"d":-4950},{"x":16.305,"o":2450,"d":-5100},{"x":16.355,"o":1475,"d":-4825},{"x":16.405,"o":1925,"d":-5025},{"x":16.455,"o":2150,"d":-5200},
{"x":16.505,"o":1250,"d":-4900},{"x":16.555,"o":1775,"d":-4975},{"x":16.605,"o":2375,"d":-5125},{"x":16.655,"o":1550,"d":-4800},{"x":16.705,"o":2000,"d":-5225},{"x":16.755,"o":1400,"d":-4925},{"x":16.805,"o":2525,"d":-5075},{"x":16.855,"o":1700,"d":-4850},{"x":16.905,"o":2225,"d":-5175},{"x":16.955,"o":1100,"d":-5000},
{"x":17.015,"o":4075,"d":-5400},{"x":17.065,"o":3218,"d":-4725},{"x":17.115,"o":4810,"d":-5040},{"x":17.165,"o":3708,"d":-4545},{"x":17.215,"o":4443,"d":-5220},{"x":17.265,"o":2973,"d":-4860},{"x":17.315,"o":5055,"d":-5130},{"x":17.365,"o":3463,"d":-4635},{"x":17.415,"o":4198,"d":-4995},{"x":17.465,"o":4565,"d":-5310},{"x":17.515,"o":3095,"d":-4770},{"x":17.565,"o":3953,"d":-4905},{"x":17.615,"o":4933,"d":-5175},{"x":17.665,"o":3585,"d":-4590},{"x":17.715,"o":4320,"d":-5355},{"x":17.765,"o":3340,"d":-4815},{"x":17.815,"o":5178,"d":-5085},{"x":17.865,"o":3830,"d":-4680},{"x":17.915,"o":4688,"d":-5265},{"x":17.965,"o":2850,"d":-4950},
{"x":18.015,"o":4325,"d":-5200},{"x":18.065,"o":3293,"d":-4525},{"x":18.115,"o":5210,"d":-4840},{"x":18.165,"o":3883,"d":-4345},{"x":18.215,"o":4768,"d":-5020},{"x":18.265,"o":2998,"d":-4660},{"x":18.315,"o":5505,"d":-4930},{"x":18.365,"o":3588,"d":-4435},{"x":18.415,"o":4473,"d":-4795},{"x":18.465,"o":4915,"d":-5110},{"x":18.515,"o":3145,"d":-4570},{"x":18.565,"o":4178,"d":-4705},{"x":18.615,"o":5358,"d":-4975},{"x":18.665,"o":3735,"d":-4390},{"x":18.715,"o":4620,"d":-5155},{"x":18.765,"o":3440,"d":-4615},{"x":18.815,"o":5653,"d":-4885},{"x":18.865,"o":4030,"d":-4480},{"x":18.915,"o":5063,"d":-5065},{"x":18.965,"o":2850,"d":-4750},
{"x":19.015,"o":4325,"d":-5200},{"x":19.065,"o":3293,"d":-4525},{"x":19.115,"o":5210,"d":-4840},{"x":19.165,"o":3883,"d":-4345},{"x":19.215,"o":4768,"d":-5020},{"x":19.265,"o":2998,"d":-4660},{"x":19.315,"o":5505,"d":-4930},{"x":19.365,"o":3588,"d":-4435},{"x":19.415,"o":4473,"d":-4795},{"x":19.465,"o":4915,"d":-5110},
{"x":19.515,"o":3105,"d":-4420},{"x":19.565,"o":3998,"d":-4555},{"x":19.615,"o":5018,"d":-4825},{"x":19.665,"o":3615,"d":-4240},{"x":19.715,"o":4380,"d":-5005},{"x":19.765,"o":3360,"d":-4465},{"x":19.815,"o":5273,"d":-4735},{"x":19.865,"o":3870,"d":-4330},{"x":19.915,"o":4763,"d":-4915},{"x":19.965,"o":2850,"d":-4600},{"x":20.015,"o":4125,"d":-5050},{"x":20.065,"o":3233,"d":-4375},{"x":20.115,"o":4890,"d":-4690},{"x":20.165,"o":3743,"d":-4195},{"x":20.215,"o":4508,"d":-4870},{"x":20.265,"o":2978,"d":-4510},{"x":20.315,"o":5145,"d":-4780},{"x":20.365,"o":3488,"d":-4285},{"x":20.415,"o":4253,"d":-4645},{"x":20.465,"o":4635,"d":-4960},
{"x":20.515,"o":3065,"d":-4470},{"x":20.565,"o":3818,"d":-4605},{"x":20.615,"o":4678,"d":-4875},{"x":20.665,"o":3495,"d":-4290},{"x":20.715,"o":4140,"d":-5055},{"x":20.765,"o":3280,"d":-4515},{"x":20.815,"o":4893,"d":-4785},{"x":20.865,"o":3710,"d":-4380},{"x":20.915,"o":4463,"d":-4965},{"x":20.965,"o":2850,"d":-4650},{"x":21.015,"o":3925,"d":-5100},{"x":21.065,"o":3173,"d":-4425},{"x":21.115,"o":4570,"d":-4740},{"x":21.165,"o":3603,"d":-4245},{"x":21.215,"o":4248,"d":-4920},{"x":21.265,"o":2958,"d":-4560},{"x":21.315,"o":4785,"d":-4830},{"x":21.365,"o":3388,"d":-4335},{"x":21.415,"o":4033,"d":-4695},{"x":21.465,"o":4355,"d":-5010},
{"x":21.515,"o":3025,"d":-4570},{"x":21.565,"o":3638,"d":-4705},{"x":21.615,"o":4338,"d":-4975},{"x":21.665,"o":3375,"d":-4390},{"x":21.715,"o":3900,"d":-5155},{"x":21.765,"o":3200,"d":-4615},{"x":21.815,"o":4513,"d":-4885},{"x":21.865,"o":3550,"d":-4480},{"x":21.915,"o":4163,"d":-5065},{"x":21.965,"o":2850,"d":-4750},{"x":22.015,"o":3725,"d":-5200},{"x":22.065,"o":3113,"d":-4525},{"x":22.115,"o":4250,"d":-4840},{"x":22.165,"o":3463,"d":-4345},{"x":22.215,"o":3988,"d":-5020},{"x":22.265,"o":2938,"d":-4660},{"x":22.315,"o":4425,"d":-4930},{"x":22.365,"o":3288,"d":-4435},{"x":22.415,"o":3813,"d":-4795},{"x":22.465,"o":4075,"d":-5110},
{"x":22.515,"o":2995,"d":-4720},{"x":22.565,"o":3503,"d":-4855},{"x":22.615,"o":4083,"d":-5125},{"x":22.665,"o":3285,"d":-4540},{"x":22.715,"o":3720,"d":-5305},{"x":22.765,"o":3140,"d":-4765},{"x":22.815,"o":4228,"d":-5035},{"x":22.865,"o":3430,"d":-4630},{"x":22.915,"o":3938,"d":-5215},{"x":22.965,"o":2850,"d":-4900},{"x":23.015,"o":3575,"d":-5350},{"x":23.065,"o":3068,"d":-4675},{"x":23.115,"o":4010,"d":-4990},{"x":23.165,"o":3358,"d":-4495},{"x":23.215,"o":3793,"d":-5170},{"x":23.265,"o":2923,"d":-4810},{"x":23.315,"o":4155,"d":-5080},{"x":23.365,"o":3213,"d":-4585},{"x":23.415,"o":3648,"d":-4945},{"x":23.465,"o":3865,"d":-5260},
{"x":23.515,"o":2955,"d":-4820},{"x":23.565,"o":3323,"d":-4955},{"x":23.615,"o":3743,"d":-5225},{"x":23.665,"o":3165,"d":-4640},{"x":23.715,"o":3480,"d":-5405},{"x":23.765,"o":3060,"d":-4865},{"x":23.815,"o":3848,"d":-5135},{"x":23.865,"o":3270,"d":-4730},{"x":23.915,"o":3638,"d":-5315},{"x":23.965,"o":2850,"d":-5000},{"x":24.015,"o":3375,"d":-5450},{"x":24.065,"o":3008,"d":-4775},{"x":24.115,"o":3690,"d":-5090},{"x":24.165,"o":3218,"d":-4595},{"x":24.215,"o":3533,"d":-5270},{"x":24.265,"o":2903,"d":-4910},{"x":24.315,"o":3795,"d":-5180},{"x":24.365,"o":3113,"d":-4685},{"x":24.415,"o":3428,"d":-5045},{"x":24.465,"o":3585,"d":-5360},
{"x":24.515,"o":2935,"d":-4920},{"x":24.565,"o":3233,"d":-5055},{"x":24.615,"o":3573,"d":-5325},{"x":24.665,"o":3105,"d":-4740},{"x":24.715,"o":3360,"d":-5505},{"x":24.765,"o":3020,"d":-4965},{"x":24.815,"o":3658,"d":-5235},{"x":24.865,"o":3190,"d":-4830},{"x":24.915,"o":3488,"d":-5415},{"x":24.965,"o":2850,"d":-5100},{"x":25.015,"o":3275,"d":-5550},{"x":25.065,"o":2978,"d":-4875}
],
"bk":[{"x":2.0,"b":230},{"x":4.0,"b":200},{"x":6.0,"b":170},{"x":8.0,"b":150},{"x":10.99,"b":130},{"x":11.0,"b":1380},{"x":12.0,"b":1370},{"x":14.0,"b":1320},{"x":16.0,"b":1270},{"x":16.99,"b":1240},{"x":17.0,"b":3420},{"x":19.0,"b":3400},{"x":21.0,"b":3350},{"x":23.0,"b":3290},{"x":25.08,"b":3240}],
"h1":[{"x":2.64},{"x":2.94},{"x":3.32},{"x":3.80},{"x":3.84},{"x":3.95},{"x":4.25},{"x":4.30},{"x":4.35},{"x":4.40},{"x":4.55},{"x":4.60},{"x":4.68},{"x":4.74},{"x":5.05},{"x":5.10},{"x":5.16},{"x":5.22},{"x":5.39},{"x":5.45},{"x":5.49},{"x":5.55},{"x":5.61},{"x":5.70},{"x":5.76},{"x":6.07},{"x":6.12},{"x":6.22},{"x":6.30},{"x":6.37},{"x":6.42},{"x":6.47},{"x":6.55},{"x":6.62},{"x":6.68},{"x":6.75},{"x":6.83},{"x":6.90},{"x":6.97},{"x":7.03},{"x":7.12},{"x":7.18},{"x":7.28},{"x":7.35},{"x":7.43},{"x":7.50},{"x":7.60},{"x":7.68},{"x":7.73},{"x":7.83},{"x":7.92},{"x":7.97},{"x":8.03},{"x":8.08},{"x":8.14},{"x":8.20},{"x":8.26},{"x":8.33},{"x":8.41},{"x":8.48},{"x":8.56},{"x":8.62},{"x":8.68},{"x":8.73},{"x":8.79},{"x":8.85},{"x":8.94},{"x":9.01},{"x":9.06},{"x":9.12},{"x":9.17},{"x":9.24},{"x":9.30},{"x":9.35},{"x":9.41},{"x":9.47},{"x":9.54},{"x":9.60},{"x":9.64},{"x":9.69},{"x":9.77},{"x":9.85},{"x":9.92},{"x":9.99},{"x":10.07},{"x":10.15},{"x":10.22},{"x":10.30},{"x":10.37},{"x":10.43},{"x":10.49},{"x":10.55},{"x":10.60},{"x":10.67},{"x":10.75},{"x":10.80},{"x":10.84},{"x":10.90}],
"h2":[{"x":11.05},{"x":11.15},{"x":11.25},{"x":11.35},{"x":11.45},{"x":11.55},{"x":11.65},{"x":11.75},{"x":11.85},{"x":11.95},{"x":12.15},{"x":12.25},{"x":12.35},{"x":12.45},{"x":12.55},{"x":12.65},{"x":12.85},{"x":12.95},{"x":13.05},{"x":13.25},{"x":13.35},{"x":13.45},{"x":13.65},{"x":13.75},{"x":13.85},{"x":13.95},{"x":14.05},{"x":14.15},{"x":14.25},{"x":14.35},{"x":14.45},{"x":14.55},{"x":14.65},{"x":14.75},{"x":14.85},{"x":14.95},{"x":15.05},{"x":15.15},{"x":15.25},{"x":15.35},{"x":15.45},{"x":15.55},{"x":15.65},{"x":15.75},{"x":15.85},{"x":15.95},{"x":16.05},{"x":16.15},{"x":16.25},{"x":16.35},{"x":16.45},{"x":16.55},{"x":16.65},{"x":16.75},{"x":16.85},{"x":16.95},{"x":17.05},{"x":17.15},{"x":17.25},{"x":17.45},{"x":17.55},{"x":17.65},{"x":17.75},{"x":17.85},{"x":17.95},{"x":18.05},{"x":18.15},{"x":18.25},{"x":18.35},{"x":18.45},{"x":18.55},{"x":18.65},{"x":18.75},{"x":18.85},{"x":18.95},{"x":19.05},{"x":19.15},{"x":19.25},{"x":19.35},{"x":19.45},{"x":19.55},{"x":19.65},{"x":19.75},{"x":19.85},{"x":19.95},{"x":20.05},{"x":20.15},{"x":20.25},{"x":20.35},{"x":20.45},{"x":20.55},{"x":20.65},{"x":20.75},{"x":20.85},{"x":20.95},{"x":21.05},{"x":21.15},{"x":21.25},{"x":21.35},{"x":21.45},{"x":21.55},{"x":21.65},{"x":21.75},{"x":21.85},{"x":21.95},{"x":22.05},{"x":22.15},{"x":22.25},{"x":22.35},{"x":22.45},{"x":22.55},{"x":22.65},{"x":22.75},{"x":22.85},{"x":22.95},{"x":23.05},{"x":23.15},{"x":23.25},{"x":23.35},{"x":23.45},{"x":23.55},{"x":23.65},{"x":23.75},{"x":23.85},{"x":23.95},{"x":24.05},{"x":24.15},{"x":24.25},{"x":24.35},{"x":24.45},{"x":24.55},{"x":24.65},{"x":24.75},{"x":24.85},{"x":24.95}],
"sc":[{"x":2.0,"t":"x1.0"},{"x":11.0,"t":"x8"},{"x":17.0,"t":"x20"}],
"vl":[{"x":11.0},{"x":17.0}]
},
"encoding":{"x":{"field":"x","type":"quantitative","scale":{"domain":[2,25],"nice":false,"zero":false},"axis":{"offset":13,"values":[5,10,15,20],"labelExpr":"datum.value % 10 === 0 ? datum.label : ''","labelPadding":3,"title":"2Theta","titlePadding":2}}},
"layer":[
{"data":{"name":"pat"},"mark":{"type":"point","filled":false,"size":744,"strokeWidth":1.3,"opacity":1},
 "encoding":{
  "y":{"field":"o","type":"quantitative","scale":{"domain":[-6600,24430],"nice":false,"zero":false},"axis":{"offset":13,"values":[-5000,0,5000,10000,15000,20000],"format":"d","labelExpr":"datum.value % 10000 === 0 ? datum.label : ''","labelPadding":6,"title":"Intensity","titlePadding":26}},
  "color":{"datum":"Obs","type":"nominal","scale":{"domain":["bckgr","Calc","Obs","diff","Phase1"],"range":["#00cc00","#ff0000","#1a1a1a","#0000ff","#ff00ff"]},
   "legend":{"title":null,"orient":"none","legendX":627,"legendY":-3,"padding":0,"symbolSize":500,"symbolStrokeWidth":3,"labelFont":"DejaVu Sans","labelFontSize":17,"labelColor":"#111","labelOffset":12,"rowPadding":11,
    "encode":{"symbols":{"shape":{"value":{"expr":"scale('shape', datum.value)"}},"stroke":{"value":{"expr":"scale('color', datum.value)"}},"fill":{"value":{"expr":"datum.value === 'Phase1' ? '#ff00ff' : 'transparent'"}},"strokeWidth":{"value":{"expr":"datum.value === 'Obs' ? 1.2 : 3"}},"size":{"value":500},"opacity":{"value":1}}}}},
  "shape":{"datum":"Obs","type":"nominal","scale":{"domain":["bckgr","Calc","Obs","diff","Phase1"],"range":["stroke","stroke","M-0.3,-0.3L0.3,0.3M-0.3,0.3L0.3,-0.3","stroke","M-1,0L1,0M0.42,0A0.42,0.42,0,1,1,-0.42,0A0.42,0.42,0,1,1,0.42,0"]},
   "legend":{"title":null,"orient":"none","legendX":627,"legendY":-3,"padding":0,"symbolSize":500,"symbolStrokeWidth":3,"labelFont":"DejaVu Sans","labelFontSize":17,"labelColor":"#111","labelOffset":12,"rowPadding":11,
    "encode":{"symbols":{"shape":{"value":{"expr":"scale('shape', datum.value)"}},"stroke":{"value":{"expr":"scale('color', datum.value)"}},"fill":{"value":{"expr":"datum.value === 'Phase1' ? '#ff00ff' : 'transparent'"}},"strokeWidth":{"value":{"expr":"datum.value === 'Obs' ? 1.2 : 3"}},"size":{"value":500},"opacity":{"value":1}}}}}
 }},
{"data":{"name":"ob2"},"mark":{"type":"point","filled":false,"size":744,"strokeWidth":1.3,"opacity":1},
 "encoding":{"y":{"field":"o","type":"quantitative"},"color":{"datum":"Obs","type":"nominal"},"shape":{"datum":"Obs","type":"nominal"}}},
{"data":{"name":"pat"},"mark":{"type":"line","strokeWidth":1},
 "encoding":{"y":{"field":"c","type":"quantitative"},"color":{"datum":"Calc","type":"nominal"}}},
{"data":{"name":"bk"},"mark":{"type":"line","strokeWidth":2.5},
 "encoding":{"y":{"field":"b","type":"quantitative"},"color":{"datum":"bckgr","type":"nominal"}}},
{"data":{"name":"pat"},"mark":{"type":"line","strokeWidth":1},
 "encoding":{"y":{"field":"d","type":"quantitative"},"color":{"datum":"diff","type":"nominal"}}},
{"data":{"name":"ob2"},"mark":{"type":"line","strokeWidth":1},
 "encoding":{"y":{"field":"d","type":"quantitative"},"color":{"datum":"diff","type":"nominal"}}},
{"data":{"name":"h1"},"mark":{"type":"tick","orient":"vertical","thickness":2,"size":14,"opacity":1},
 "encoding":{"y":{"datum":-810,"type":"quantitative"},"color":{"datum":"Phase1","type":"nominal"}}},
{"data":{"name":"h2"},"mark":{"type":"tick","orient":"vertical","thickness":3.6,"size":14,"opacity":1},
 "encoding":{"y":{"datum":-810,"type":"quantitative"},"color":{"datum":"Phase1","type":"nominal"}}},
{"data":{"name":"vl"},"mark":{"type":"rule","color":"#222","strokeWidth":1.2},"encoding":{}},
{"data":{"name":"sc"},"mark":{"type":"rect","width":27,"height":17,"xOffset":14,"yOffset":2,"fill":"#dcdcdc","stroke":"#8a8a8a","strokeWidth":1},
 "encoding":{"y":{"datum":24430,"type":"quantitative"}}},
{"data":{"name":"sc"},"mark":{"type":"text","dx":14,"dy":2,"fontSize":8,"font":"DejaVu Sans","color":"#555"},
 "encoding":{"y":{"datum":24430,"type":"quantitative"},"text":{"field":"t"}}}
]
}
